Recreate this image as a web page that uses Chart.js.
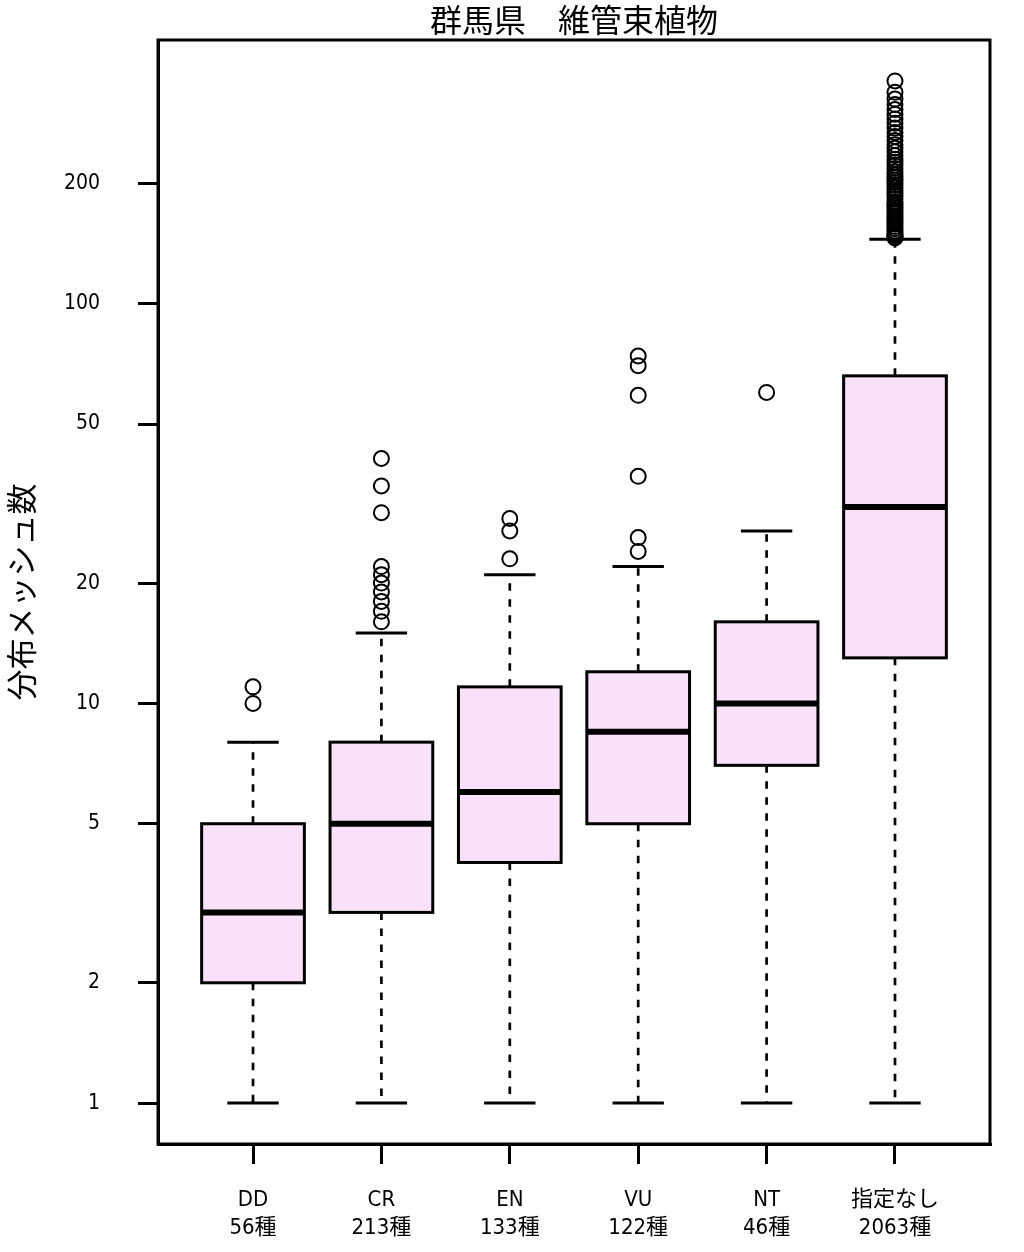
<!DOCTYPE html>
<html lang="ja">

<head>
    <meta charset="UTF-8">
    <title>群馬県 維管束植物</title>
    <script src="https://cdn.jsdelivr.net/npm/chart.js"></script>
    <style>
        body {
            margin: 0;
            padding: 0;
            background: #ffffff;
        }

        canvas {
            display: block;
        }
    </style>
</head>

<body>
    <canvas id="boxChart" width="1024" height="1252"></canvas>

    <script>
        // categories and species counts
        const categories = ['DD', 'CR', 'EN', 'VU', 'NT', '指定なし'];
        const speciesCounts = [56, 213, 133, 122, 46, 2063];
        const chartTitle = '群馬県　維管束植物';

        // box statistics (whisker ends, quartiles, median)
        const whiskerLow = [1, 1, 1, 1, 1, 1];
        const quartile1 = [2, 3, 4, 5, 7, 13];
        const medians = [3, 5, 6, 8.5, 10, 31];
        const quartile3 = [5, 8, 11, 12, 16, 66];
        const whiskerHigh = [8, 15, 21, 22, 27, 145];

        // outliers per category
        const outliersDD = [10, 11];
        const outliersCR = [16, 17, 18, 19, 20, 21, 22, 30, 35, 41];
        const outliersEN = [23, 27, 29];
        const outliersVU = [24, 26, 37, 59, 70, 74];
        const outliersNT = [60];
        const outliersNone = [146, 147, 148, 149, 150, 152, 154, 156, 158, 160, 162, 164, 166, 168, 170,
            172, 174, 176, 178, 180, 183, 186, 189, 192, 195, 198, 201, 204, 207, 210, 214, 218, 222, 226,
            230, 235, 240, 245, 250, 256, 262, 268, 275, 283, 290, 298, 306, 315, 325, 338, 361];

        const yTickValues = [1, 2, 5, 10, 20, 50, 100, 200];

        const outlierGroups = [outliersDD, outliersCR, outliersEN, outliersVU, outliersNT, outliersNone];
        const outlierPoints = [];
        outlierGroups.forEach((group, i) => {
            group.forEach(v => outlierPoints.push({ x: i + 1, y: v }));
        });

        // R style axis range: 4% padding on each side
        const logLo = Math.log10(Math.min(...whiskerLow));
        const logHi = Math.log10(Math.max(...outlierPoints.map(p => p.y)));
        const logPad = (logHi - logLo) * 0.04;
        const xPad = (categories.length) * 0.04;

        const labelFont = "'DejaVu Sans Condensed', 'Noto Sans CJK JP', sans-serif";
        const cjkFont = "'Noto Sans CJK JP', sans-serif";

        const boxPlugin = {
            id: 'boxes',
            beforeDatasetsDraw(chart) {
                const { ctx, scales: { x, y } } = chart;
                const boxHalf = (x.getPixelForValue(1.4) - x.getPixelForValue(1));
                const capHalf = (x.getPixelForValue(1.2) - x.getPixelForValue(1));
                ctx.save();
                ctx.strokeStyle = '#000';
                categories.forEach((c, i) => {
                    const cx = x.getPixelForValue(i + 1);
                    const yLow = y.getPixelForValue(whiskerLow[i]);
                    const yQ1 = y.getPixelForValue(quartile1[i]);
                    const yMed = y.getPixelForValue(medians[i]);
                    const yQ3 = y.getPixelForValue(quartile3[i]);
                    const yHigh = y.getPixelForValue(whiskerHigh[i]);

                    // dashed whiskers
                    ctx.lineWidth = 2.7;
                    ctx.setLineDash([7.5, 8.5]);
                    ctx.beginPath();
                    ctx.moveTo(cx, yQ1);
                    ctx.lineTo(cx, yLow);
                    ctx.moveTo(cx, yQ3);
                    ctx.lineTo(cx, yHigh);
                    ctx.stroke();

                    // caps
                    ctx.setLineDash([]);
                    ctx.lineWidth = 3;
                    ctx.beginPath();
                    ctx.moveTo(cx - capHalf, yLow);
                    ctx.lineTo(cx + capHalf, yLow);
                    ctx.moveTo(cx - capHalf, yHigh);
                    ctx.lineTo(cx + capHalf, yHigh);
                    ctx.stroke();

                    // box
                    ctx.fillStyle = '#f9e1f9';
                    ctx.fillRect(cx - boxHalf, yQ3, boxHalf * 2, yQ1 - yQ3);
                    ctx.strokeRect(cx - boxHalf, yQ3, boxHalf * 2, yQ1 - yQ3);

                    // median
                    ctx.lineWidth = 6;
                    ctx.beginPath();
                    ctx.moveTo(cx - boxHalf, yMed);
                    ctx.lineTo(cx + boxHalf, yMed);
                    ctx.stroke();
                });
                ctx.restore();
            },
            afterDraw(chart) {
                const { ctx, chartArea: a } = chart;
                ctx.save();
                ctx.strokeStyle = '#000';
                ctx.lineWidth = 3;
                ctx.strokeRect(a.left, a.top, a.right - a.left, a.bottom - a.top);

                // title centred over the plot region
                ctx.fillStyle = '#000';
                ctx.font = "32px " + cjkFont;
                ctx.textAlign = 'center';
                ctx.textBaseline = 'middle';
                ctx.fillText(chartTitle, (a.left + a.right) / 2, 20);
                ctx.restore();
            }
        };

        const ctx = document.getElementById('boxChart').getContext('2d');
        new Chart(ctx, {
            type: 'scatter',
            data: {
                datasets: [{
                    data: outlierPoints,
                    pointStyle: 'circle',
                    radius: 7.5,
                    hoverRadius: 7.5,
                    borderWidth: 2,
                    borderColor: '#000',
                    backgroundColor: 'rgba(0, 0, 0, 0)'
                }]
            },
            options: {
                responsive: false,
                animation: false,
                layout: {
                    padding: { top: 40, right: 34, bottom: 0, left: 0 }
                },
                plugins: {
                    legend: { display: false },
                    tooltip: { enabled: false },
                    title: { display: false }
                },
                scales: {
                    x: {
                        type: 'linear',
                        min: 0.5 - xPad,
                        max: categories.length + 0.5 + xPad,
                        afterBuildTicks: s => {
                            s.ticks = categories.map((c, i) => ({ value: i + 1 }));
                        },
                        afterFit: s => {
                            s.height = 108;
                            s.paddingLeft = 0;
                            s.paddingRight = 0;
                        },
                        grid: {
                            drawOnChartArea: false,
                            drawTicks: true,
                            tickLength: 20,
                            lineWidth: 3,
                            color: '#000'
                        },
                        border: { color: '#000', width: 3 },
                        ticks: {
                            color: '#000',
                            padding: 23,
                            maxRotation: 0,
                            autoSkip: false,
                            font: { family: labelFont, size: 22, lineHeight: 1.25 },
                            callback: v => [categories[v - 1], speciesCounts[v - 1] + '種']
                        }
                    },
                    y: {
                        type: 'logarithmic',
                        min: Math.pow(10, logLo - logPad),
                        max: Math.pow(10, logHi + logPad),
                        afterBuildTicks: s => {
                            s.ticks = yTickValues.map(v => ({ value: v }));
                        },
                        afterFit: s => {
                            s.width = 158;
                            s.paddingTop = 0;
                            s.paddingBottom = 0;
                        },
                        grid: {
                            drawOnChartArea: false,
                            drawTicks: true,
                            tickLength: 20,
                            lineWidth: 3,
                            color: '#000'
                        },
                        border: { color: '#000', width: 3 },
                        ticks: {
                            color: '#000',
                            padding: 38,
                            autoSkip: false,
                            font: { family: labelFont, size: 21 },
                            callback: v => String(v)
                        },
                        title: {
                            display: true,
                            text: '分布メッシュ数',
                            color: '#000',
                            font: { family: cjkFont, size: 31, lineHeight: 1.2 },
                            padding: { top: 3, bottom: 0 }
                        }
                    }
                }
            },
            plugins: [boxPlugin]
        });
    </script>
</body>

</html>
